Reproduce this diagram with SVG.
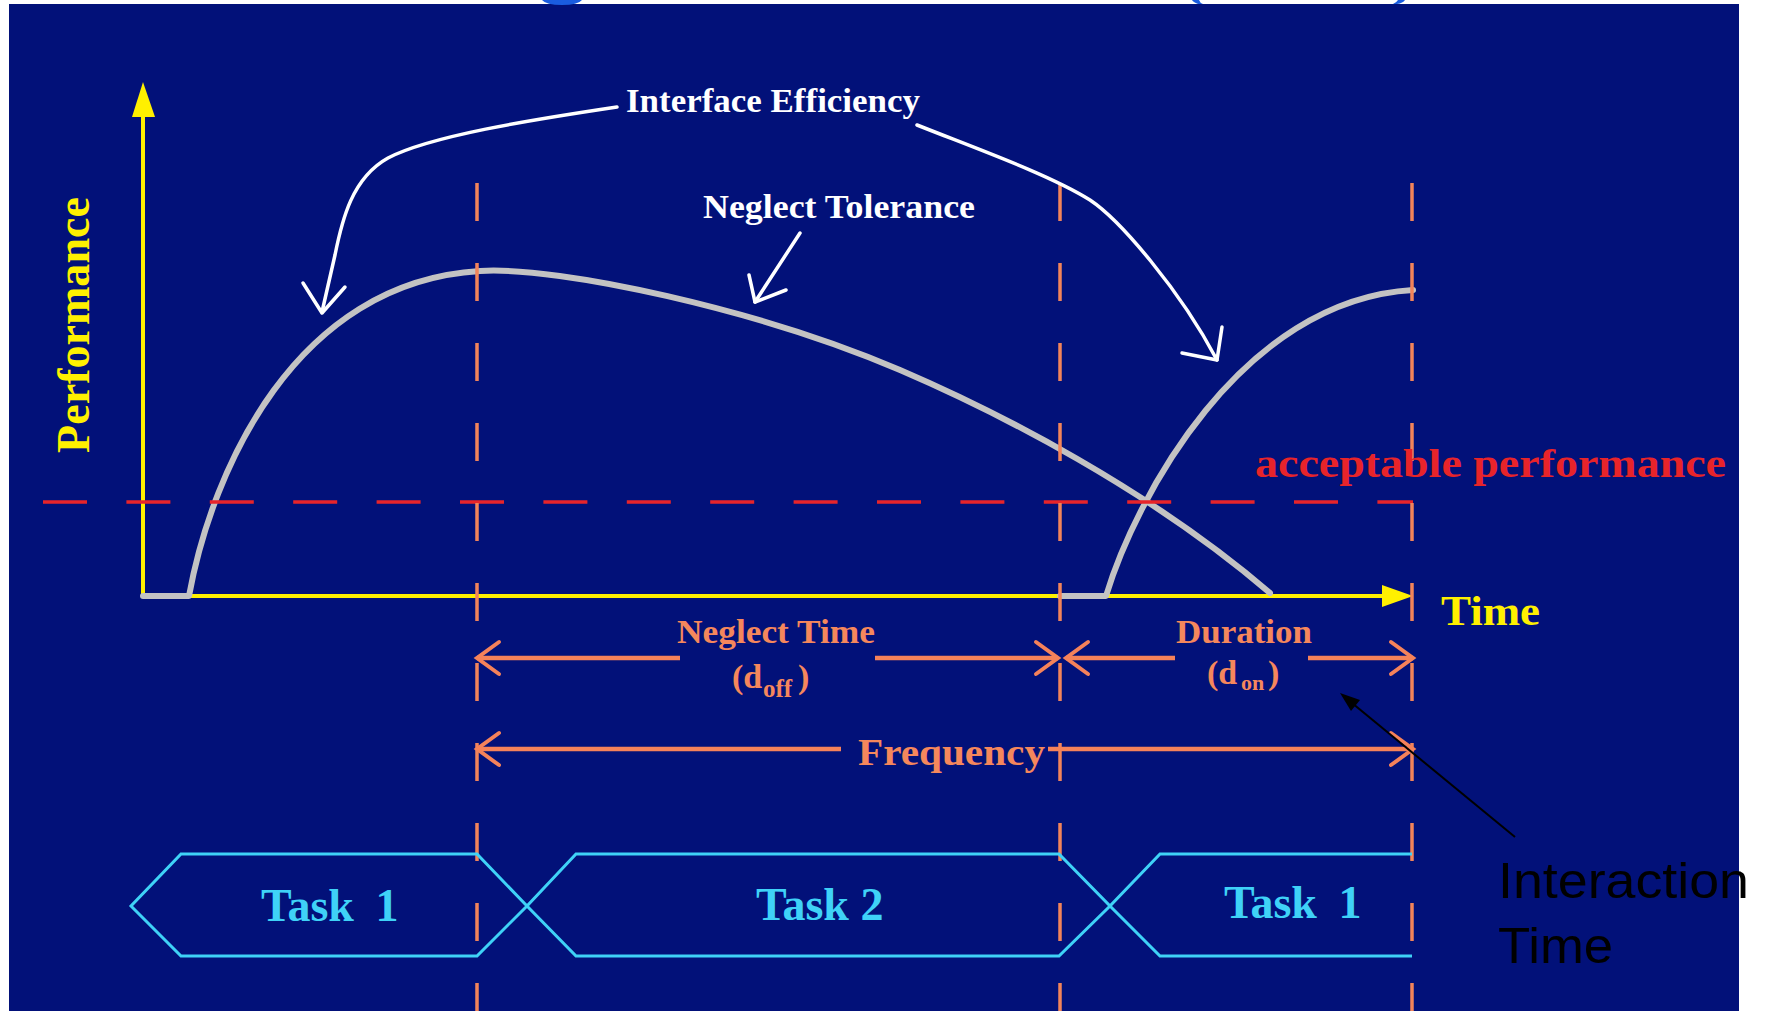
<svg xmlns="http://www.w3.org/2000/svg" width="1765" height="1011" viewBox="0 0 1765 1011">
<style>
 .serif{font-family:"Liberation Serif","Times New Roman",serif;font-weight:bold}
 .white{fill:#ffffff}
 .yellow{fill:#fff000}
 .orange{fill:#f5875c}
 .red{fill:#e8242a}
 .cyan{fill:#3fd2f7}
 .curve{fill:none;stroke:#c3c3c3;stroke-width:6;stroke-linecap:round;stroke-linejoin:round}
 .warrow{fill:none;stroke:#ffffff;stroke-width:3.5;stroke-linecap:round;stroke-linejoin:round}
 .vdash{stroke:#f2845a;stroke-width:3.5;stroke-dasharray:38 42}
 .hdash{stroke:#e8242a;stroke-width:3.5;stroke-dasharray:44 39.4}
 .dim{stroke:#f5825a;stroke-width:4.5;fill:none}
 .task{fill:none;stroke:#3fd2f7;stroke-width:3;stroke-linejoin:miter}
 .axis{stroke:#fff000;stroke-width:4;fill:none}
 .frag{fill:#1a5de0}
</style>
<defs>
 <marker id="chev" viewBox="-26 -20 30 40" refX="0" refY="0" markerWidth="30" markerHeight="40" markerUnits="userSpaceOnUse" orient="auto-start-reverse">
  <path d="M-22,-16 L0,0 L-22,16" fill="none" stroke="#f5825a" stroke-width="4" stroke-linecap="round"/>
 </marker>
</defs>
<rect x="0" y="0" width="1765" height="1011" fill="#ffffff"/>
<rect x="9" y="4" width="1730" height="1007" fill="#021179"/>
<g id="title-fragments">
 <path class="frag" d="M542,0 L582,0 Q578,5 562,5 Q546,5 542,0 Z"/>
 <path class="frag" d="M1192,0 L1199,0 Q1200,3 1203,4 L1198,4 Q1193,2 1192,0 Z"/>
 <path class="frag" d="M1398,0 L1405,0 Q1403,3 1397,4 L1393,4 Q1397,2 1398,0 Z"/>
</g>
<g id="axes">
 <line class="axis" x1="143" y1="596" x2="143" y2="112"/>
 <polygon fill="#fff000" points="143,82 132,117 155,117"/>
 <line class="axis" x1="143" y1="596" x2="1385" y2="596"/>
 <polygon fill="#fff000" points="1413,596 1382,585 1382,607"/>
</g>
<g id="performance-curves">
 <path class="curve" d="M143,596 L189,596 C212,470 295,282 480,271 C560,266 760,310 900,370 C1000,413 1150,490 1270,593"/>
 <path class="curve" d="M1060,596 L1106,596 C1135,500 1240,300 1413,290"/>
</g>
<g id="acceptable-line">
 <line class="hdash" x1="43" y1="502" x2="1413" y2="502"/>
</g>
<g id="time-markers">
 <line class="vdash" x1="477" y1="183" x2="477" y2="1011"/>
 <line class="vdash" x1="1060" y1="183" x2="1060" y2="1011"/>
 <line class="vdash" x1="1412" y1="183" x2="1412" y2="1011"/>
</g>
<g id="connectors">
 <path class="warrow" d="M617,107 C530,120 430,136 388,158 C352,178 342,220 335,255 L322,312"/>
 <polyline class="warrow" points="303,283 322,313 345,287"/>
 <path class="warrow" d="M917,125 C980,150 1050,175 1090,200 C1120,220 1180,290 1217,360"/>
 <polyline class="warrow" points="1182,353 1217,360 1222,327"/>
 <line class="warrow" x1="800" y1="233" x2="755" y2="302"/>
 <polyline class="warrow" points="749,275 755,302 786,290"/>
 <line class="dim" x1="477" y1="658" x2="680" y2="658" marker-start="url(#chev)"/>
 <line class="dim" x1="875" y1="658" x2="1058" y2="658" marker-end="url(#chev)"/>
 <line class="dim" x1="1066" y1="658" x2="1175" y2="658" marker-start="url(#chev)"/>
 <line class="dim" x1="1308" y1="658" x2="1413" y2="658" marker-end="url(#chev)"/>
 <line class="dim" x1="477" y1="749" x2="841" y2="749" marker-start="url(#chev)"/>
 <line class="dim" x1="1048" y1="749" x2="1413" y2="749" marker-end="url(#chev)"/>
 <line x1="1515" y1="837" x2="1352" y2="703" stroke="#000000" stroke-width="2"/>
 <polygon fill="#000000" points="1340,693 1360,700 1351,711"/>
</g>
<g id="label-interface-efficiency"><text class="serif white" x="626" y="112" font-size="33" textLength="294" lengthAdjust="spacingAndGlyphs">Interface Efficiency</text></g>
<g id="label-neglect-tolerance"><text class="serif white" x="703" y="218" font-size="33" textLength="272" lengthAdjust="spacingAndGlyphs">Neglect Tolerance</text></g>
<g id="label-performance"><text class="serif yellow" transform="translate(89,453) rotate(-90)" x="0" y="0" font-size="47" textLength="256" lengthAdjust="spacingAndGlyphs">Performance</text></g>
<g id="label-acceptable"><text class="serif red" x="1255" y="477" font-size="40" textLength="471" lengthAdjust="spacingAndGlyphs">acceptable performance</text></g>
<g id="label-time"><text class="serif yellow" x="1441" y="625" font-size="42" textLength="99" lengthAdjust="spacingAndGlyphs">Time</text></g>
<g id="label-neglect-time">
 <text class="serif orange" x="677" y="643" font-size="34" textLength="198" lengthAdjust="spacingAndGlyphs">Neglect Time</text>
 <text class="serif orange" font-size="34"><tspan x="732" y="688">(d</tspan><tspan x="763" y="697" font-size="25">off</tspan><tspan x="798" y="688">)</tspan></text>
</g>
<g id="label-duration">
 <text class="serif orange" x="1176" y="643" font-size="34" textLength="136" lengthAdjust="spacingAndGlyphs">Duration</text>
 <text class="serif orange" font-size="34"><tspan x="1207" y="684">(d</tspan><tspan x="1241" y="690" font-size="22">on</tspan><tspan x="1268" y="684">)</tspan></text>
</g>
<g id="label-frequency"><text class="serif orange" x="858" y="765" font-size="38" textLength="187" lengthAdjust="spacingAndGlyphs">Frequency</text></g>
<g id="task-1-left">
 <path class="task" d="M527,906 L477,854 L181,854 L131,906 L181,956 L477,956 Z"/>
 <text class="serif cyan" x="261" y="921" font-size="46" word-spacing="10">Task 1</text>
</g>
<g id="task-2">
 <path class="task" d="M527,906 L576,854 L1059,854 L1110,906 L1059,956 L576,956 Z"/>
 <text class="serif cyan" x="756" y="920" font-size="46">Task 2</text>
</g>
<g id="task-1-right">
 <path class="task" d="M1412,854 L1160,854 L1110,906 L1160,956 L1412,956"/>
 <text class="serif cyan" x="1224" y="918" font-size="46" word-spacing="10">Task 1</text>
</g>
<g id="label-interaction-time">
 <text x="1498" y="898" font-family="Liberation Sans, Arial, sans-serif" font-size="50" fill="#000000" textLength="251" lengthAdjust="spacingAndGlyphs">Interaction</text>
 <text x="1498" y="963" font-family="Liberation Sans, Arial, sans-serif" font-size="50" fill="#000000" textLength="115" lengthAdjust="spacingAndGlyphs">Time</text>
</g>
</svg>
